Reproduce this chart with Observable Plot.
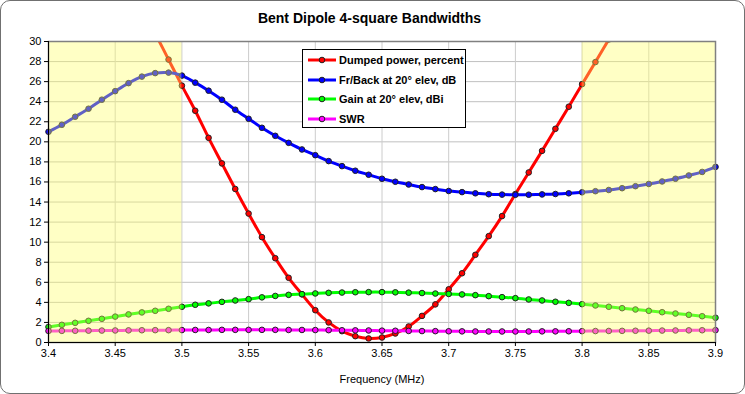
<!DOCTYPE html>
<html>
<head>
<meta charset="utf-8">
<script src="https://cdn.jsdelivr.net/npm/d3@7"></script>
<script src="https://cdn.jsdelivr.net/npm/@observablehq/plot@0.6"></script>
<style>
  html, body { margin: 0; padding: 0; background: #fff; }
  #wrap { position: relative; width: 745px; height: 394px; overflow: hidden; font-family: "Liberation Sans", Arial, sans-serif; }
  #border { position: absolute; left: 0; top: 0; width: 745px; height: 394px; box-sizing: border-box; border: 1px solid #707070; border-radius: 10px; pointer-events: none; }
  #title { position: absolute; left: 0; width: 745px; top: 10px; text-align: center; font-weight: bold; font-size: 14px; line-height: 16px; padding-right: 6px; box-sizing: border-box; }
  #legend { position: absolute; left: 302px; top: 49px; width: 164px; height: 79px; box-sizing: border-box; border: 1px solid #000; background: #fff; }
  .item { position: absolute; left: 4px; height: 14px; display: flex; align-items: center; font-weight: bold; font-size: 11px; white-space: nowrap; }
  .item svg { margin-right: 2px; }
  #chart { position: absolute; left: 0; top: 0; }
</style>
</head>
<body>
<div id="wrap">
  <div id="chart"></div>
  <div id="title">Bent Dipole 4-square Bandwidths</div>
  <div id="legend"></div>
  <div id="border"></div>
</div>
<script>
const freq = [3.40,3.41,3.42,3.43,3.44,3.45,3.46,3.47,3.48,3.49,
              3.50,3.51,3.52,3.53,3.54,3.55,3.56,3.57,3.58,3.59,
              3.60,3.61,3.62,3.63,3.64,3.65,3.66,3.67,3.68,3.69,
              3.70,3.71,3.72,3.73,3.74,3.75,3.76,3.77,3.78,3.79,
              3.80,3.81,3.82,3.83,3.84,3.85,3.86,3.87,3.88,3.89,3.90];

const dumpedPower = [null,null,null,null,null,null,null,null,30.8,28.2,
              25.6,23.1,20.4,17.85,15.3,12.85,10.5,8.4,6.45,4.8,
              3.22,2.0,1.13,0.63,0.4,0.5,0.9,1.6,2.65,3.8,
              5.3,6.9,8.74,10.6,12.6,14.8,16.95,19.1,21.3,23.5,
              25.75,27.95,30.2,null,null,null,null,null,null,null,null];

const frontBack = [21.0,21.7,22.5,23.3,24.2,25.05,25.85,26.5,26.85,26.9,
              26.6,25.9,25.1,24.2,23.2,22.3,21.4,20.6,19.9,19.24,
              18.67,18.08,17.58,17.12,16.72,16.32,16.02,15.75,15.49,15.29,
              15.1,14.99,14.87,14.78,14.74,14.72,14.73,14.76,14.8,14.87,
              14.97,15.08,15.2,15.38,15.58,15.8,16.05,16.32,16.65,17.0,17.5];

const gain = [1.55,1.76,1.96,2.16,2.36,2.58,2.8,3.0,3.16,3.36,
              3.56,3.76,3.9,4.05,4.19,4.32,4.5,4.64,4.75,4.82,
              4.89,4.95,4.98,5.01,5.02,5.02,5.0,4.97,4.93,4.88,
              4.84,4.79,4.72,4.62,4.52,4.42,4.29,4.19,4.06,3.95,
              3.82,3.69,3.56,3.42,3.29,3.16,3.02,2.89,2.76,2.62,2.47];

const swr = [1.15,1.16,1.17,1.18,1.19,1.20,1.21,1.22,1.23,1.23,
             1.24,1.25,1.25,1.26,1.26,1.26,1.26,1.26,1.25,1.25,
             1.24,1.23,1.22,1.21,1.20,1.18,1.17,1.15,1.14,1.13,
             1.12,1.11,1.10,1.10,1.10,1.10,1.10,1.11,1.11,1.12,
             1.13,1.14,1.15,1.16,1.17,1.18,1.19,1.20,1.21,1.22,1.23];

const seriesNames = ["Dumped power, percent", "Fr/Back at 20\u00B0 elev, dB", "Gain at 20\u00B0 elev, dBi", "SWR"];
const seriesColors = ["#ff0000", "#0000ff", "#00ff00", "#ff00ff"];
const seriesValues = [dumpedPower, frontBack, gain, swr];
const seriesClipped = [true, false, false, false];

const bandStart = [3.4, 3.8];
const bandEnd = [3.5, 3.9];

const xTicks = [3.4,3.45,3.5,3.55,3.6,3.65,3.7,3.75,3.8,3.85,3.9];
const xTickLabels = ["3.4","3.45","3.5","3.55","3.6","3.65","3.7","3.75","3.8","3.85","3.9"];
const yTicks = [0,2,4,6,8,10,12,14,16,18,20,22,24,26,28,30];

const seriesMarks = [];
seriesValues.forEach((vals, s) => {
  const rows = freq.map((f, i) => ({f, v: vals[i]})).filter(d => d.v != null);
  const clip = seriesClipped[s];
  seriesMarks.push(Plot.line(rows, {x: "f", y: "v", stroke: seriesColors[s], strokeWidth: 3, curve: "catmull-rom", clip}));
  seriesMarks.push(Plot.dot(rows, {x: "f", y: "v", fill: seriesColors[s], stroke: "#222", strokeWidth: 1, r: 2.8, clip}));
});

const bands = bandStart.map((b, i) => ({x1: b, x2: bandEnd[i]}));

const chart = Plot.plot({
  width: 745, height: 394,
  marginTop: 41, marginBottom: 52, marginLeft: 48, marginRight: 30,
  style: {fontFamily: "'Liberation Sans', Arial, sans-serif", fontSize: "11px", color: "#000", background: "transparent"},
  x: {domain: [3.4, 3.9]},
  y: {domain: [0, 30]},
  marks: [
    Plot.gridY(yTicks, {stroke: "#c0c0c0", strokeOpacity: 1, strokeWidth: 1}),
    Plot.gridX(xTicks, {stroke: "#cccccc", strokeOpacity: 1, strokeWidth: 1}),
    ...seriesMarks,
    Plot.rectX(bands, {x1: "x1", x2: "x2", y1: 0, y2: 30, fill: "#ffff66", fillOpacity: 0.38}),
    Plot.frame({stroke: "#808080", strokeWidth: 1.5}),
    Plot.ruleX([3.4], {stroke: "#000", strokeWidth: 1}),
    Plot.ruleY([0], {stroke: "#000", strokeWidth: 1}),
    Plot.axisY(yTicks, {tickSize: 4, tickPadding: 3, label: null, fontSize: 11}),
    Plot.axisX(xTicks, {tickSize: 4, tickPadding: 3, fontSize: 11,
      tickFormat: d => xTickLabels[xTicks.indexOf(d)],
      label: "Frequency (MHz)", labelAnchor: "center", labelArrow: "none", labelOffset: 40})
  ]
});
document.getElementById("chart").appendChild(chart);

const legend = document.getElementById("legend");
seriesNames.forEach((name, i) => {
  const div = document.createElement("div");
  div.className = "item";
  div.style.top = (3 + i * 19.7) + "px";
  div.innerHTML = `<svg width="30" height="10"><line x1="1" x2="29" y1="5" y2="5" stroke="${seriesColors[i]}" stroke-width="3"/><circle cx="15" cy="5" r="2.8" fill="${seriesColors[i]}" stroke="#222" stroke-width="1"/></svg><span>${name}</span>`;
  legend.appendChild(div);
});
</script>
</body>
</html>
